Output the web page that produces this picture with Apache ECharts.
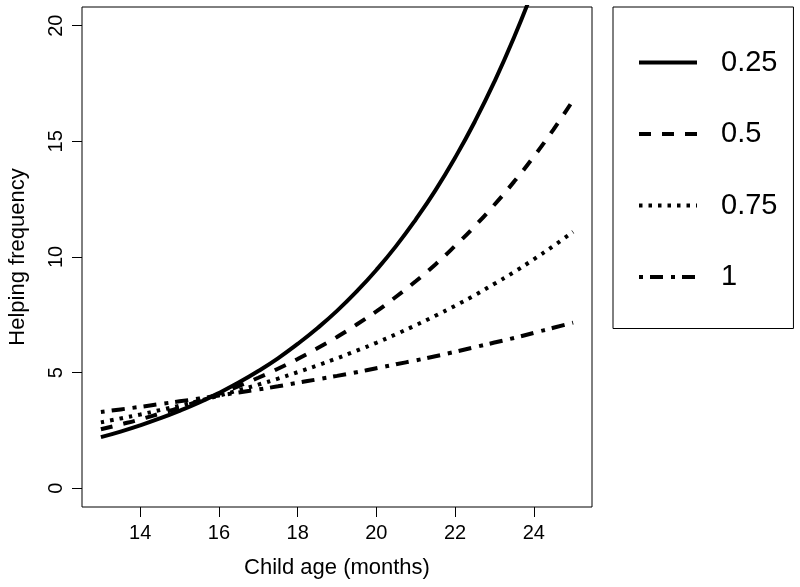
<!DOCTYPE html>
<html>
<head>
<meta charset="utf-8">
<script src="https://cdn.jsdelivr.net/npm/echarts@6/dist/echarts.min.js"></script>
<style>
html,body{margin:0;padding:0;background:#fff;}
#chart{width:800px;height:587px;}
</style>
</head>
<body>
<div id="chart"></div>
<script>
// Child age (months)
var ages = [13,13.5,14,14.5,15,15.5,16,16.5,17,17.5,18,18.5,19,19.5,20,20.5,21,21.5,22,22.5,23,23.5,24,24.5,25];
var seriesNames = ['0.25','0.5','0.75','1'];
var helping025 = [2.21,2.45,2.72,3.02,3.35,3.71,4.12,4.57,5.07,5.62,6.24,6.92,7.67,8.51,9.44,10.47,11.62,12.88,14.29,15.85,17.58,19.50,21.63,24.00,26.62];
var helping050 = [2.55,2.76,2.98,3.23,3.49,3.78,4.08,4.42,4.78,5.17,5.59,6.05,6.54,7.08,7.65,8.28,8.95,9.68,10.48,11.33,12.26,13.26,14.34,15.51,16.78];
var helping075 = [2.85,3.02,3.19,3.38,3.57,3.78,4.00,4.24,4.48,4.74,5.02,5.31,5.62,5.95,6.29,6.66,7.05,7.46,7.89,8.35,8.84,9.35,9.90,10.48,11.09];
var helping100 = [3.30,3.41,3.52,3.64,3.76,3.88,4.01,4.14,4.27,4.41,4.56,4.71,4.86,5.02,5.19,5.36,5.53,5.71,5.90,6.10,6.30,6.50,6.72,6.94,7.16];
var xTicks = [14,16,18,20,22,24];
var yTicks = [0,5,10,15,20];

function pairs(vals){ return ages.map(function(a,i){ return [a, vals[i]]; }); }

var FONT = '"Liberation Sans", Arial, sans-serif';
var dashStyles = ['solid', [12,11], [3.5,6], [4,7,13,8]];
var allVals = [helping025, helping050, helping075, helping100];

var chart = echarts.init(document.getElementById('chart'), null, {renderer:'canvas'});
chart.setOption({
  animation: false,
  backgroundColor: '#fff',
  grid: {left: 82, top: 7, right: 208, bottom: 80, show: true, borderColor: '#000', borderWidth: 1,
         backgroundColor: 'transparent', containLabel: false, outerBoundsMode: 'none'},
  xAxis: {
    type: 'value', min: 12.52, max: 25.48,
    name: 'Child age (months)', nameLocation: 'middle', nameGap: 50,
    nameTextStyle: {fontFamily: FONT, fontSize: 22, color: '#000'},
    axisLine: {show: false, onZero: false},
    axisTick: {show: true, length: 10, lineStyle: {color: '#000', width: 1}, customValues: xTicks},
    axisLabel: {fontFamily: FONT, fontSize: 20, color: '#000', margin: 16, customValues: xTicks},
    splitLine: {show: false}
  },
  yAxis: {
    type: 'value', min: -0.81, max: 20.81,
    name: 'Helping frequency', nameLocation: 'middle', nameGap: 53, nameRotate: 90,
    nameTextStyle: {fontFamily: FONT, fontSize: 22, color: '#000'},
    axisLine: {show: false, onZero: false},
    axisTick: {show: true, length: 10, lineStyle: {color: '#000', width: 1}, customValues: yTicks},
    axisLabel: {fontFamily: FONT, fontSize: 20, color: '#000', margin: 16, rotate: 90, customValues: yTicks},
    splitLine: {show: false}
  },
  legend: {
    orient: 'vertical', left: 613, top: 7,
    data: seriesNames,
    itemWidth: 58, itemHeight: 24, itemGap: 42.5,
    padding: [41, 16, 37, 24],
    borderColor: '#000', borderWidth: 1,
    itemStyle: {opacity: 0},
    lineStyle: {width: 4},
    textStyle: {fontFamily: FONT, fontSize: 29, color: '#000', padding: [0,0,0,19]}
  },
  series: seriesNames.map(function(n, i){
    return {
      name: n, type: 'line', data: pairs(allVals[i]), smooth: true,
      showSymbol: false, symbol: 'none', clip: true,
      lineStyle: {color: '#000', width: 4, type: dashStyles[i], cap: 'butt'},
      itemStyle: {color: '#000'}
    };
  })
});
</script>
</body>
</html>
